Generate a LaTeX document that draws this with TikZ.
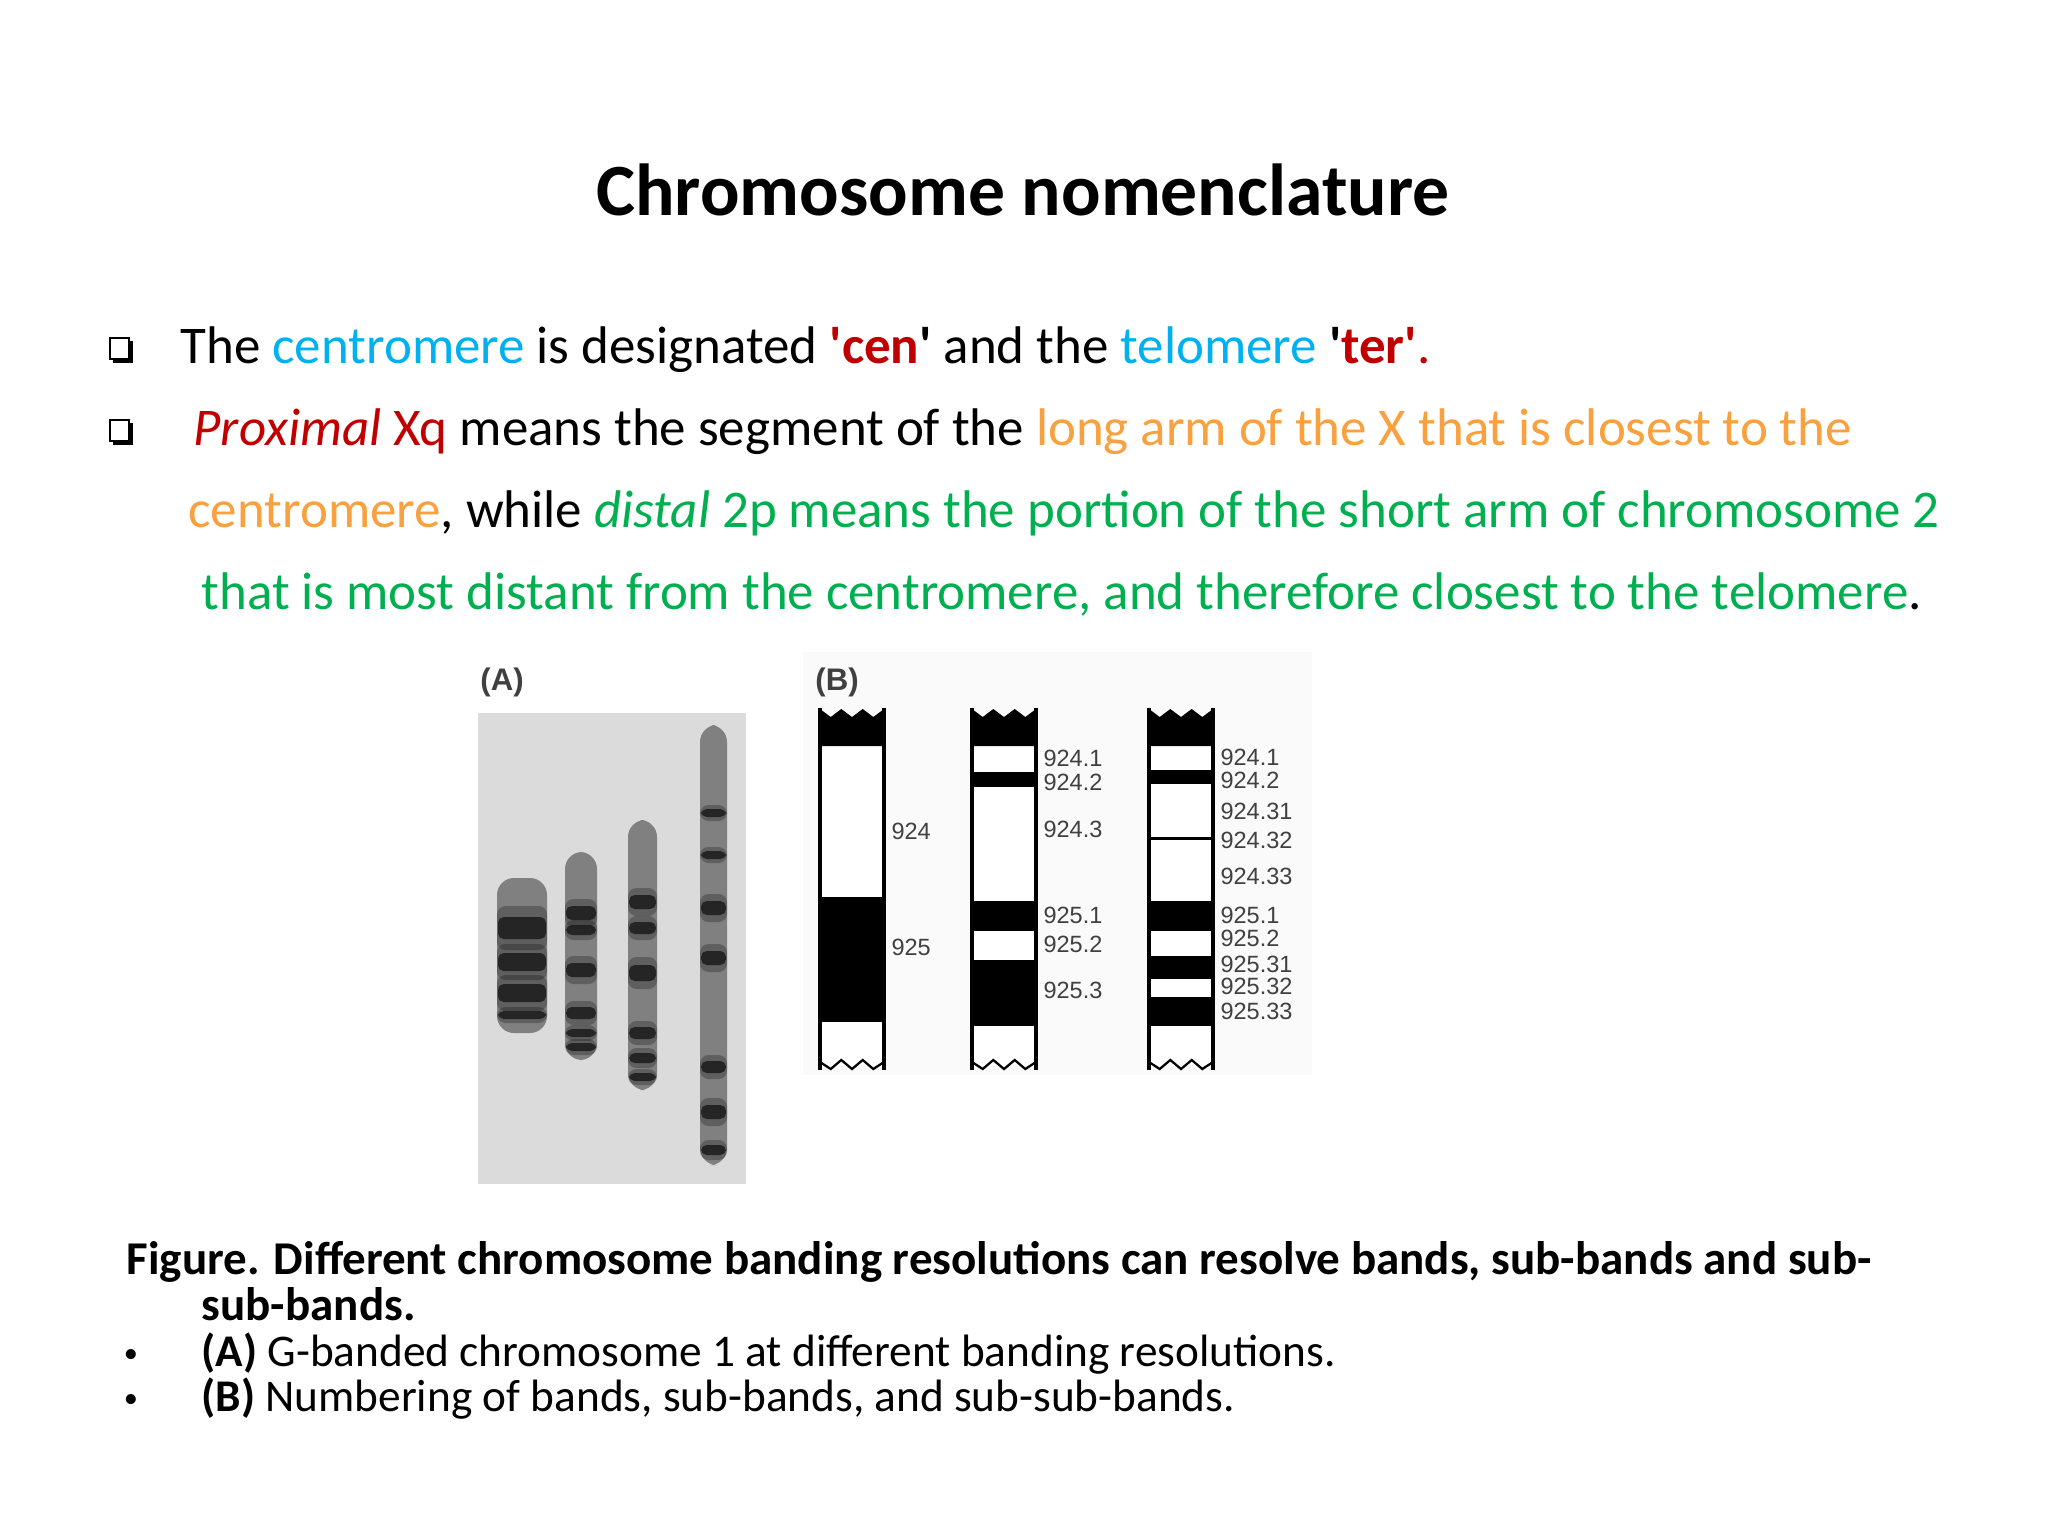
\documentclass[tikz,border=0pt]{standalone}
\usepackage{fontspec}
\setmainfont{Carlito}
\newfontfamily\labfont{Liberation Sans}
\definecolor{cenblue}{HTML}{00B0F0}
\definecolor{cenred}{HTML}{C00000}
\definecolor{armorange}{HTML}{F9A03F}
\definecolor{distgreen}{HTML}{00B050}
\lineskiplimit=-100pt

\begin{document}
\begin{tikzpicture}[x=0.0124cm, y=-0.0124cm,
    title_text/.style={inner sep=0pt, anchor=base, font=\bfseries\fontsize{26}{30}\selectfont},
    body_text/.style={inner sep=0pt, anchor=base west, font=\fontsize{18.7}{22}\selectfont},
    cap_text/.style={inner sep=0pt, anchor=base west, font=\fontsize{16}{19}\selectfont},
    cap_bold/.style={inner sep=0pt, anchor=base west, align=left, font=\bfseries\fontsize{16.6}{15.9}\selectfont},
    panel_label/.style={inner sep=0pt, text=black!75, font=\labfont\bfseries\fontsize{11}{13}\selectfont},
    band_label/.style={inner sep=0pt, anchor=west, text=black!75, font=\labfont\fontsize{8.3}{9}\selectfont},
    chrom_side/.style={line width=1.2pt},
    g_band/.style={fill=black!88, opacity=0.9},
    g_halo/.style={fill=black, opacity=0.25}]
    \fill[white] (0,0) rectangle (2048,1536);
    \useasboundingbox (0,0) rectangle (2048,1536);

    \node[title_text] (title) at (1023,215) {Chromosome nomenclature};

    % square bullets
    \foreach \y in {363,445} {
        \draw[line width=0.7pt] (110,\y-25) rectangle (129,\y-4);
        \fill (113,\y-4) rectangle (133,\y);
        \fill (129,\y-22) rectangle (133,\y);
    }
    \node[body_text] (cenline) at (180,363) {The \textcolor{cenblue}{centromere} is designated
        \textcolor{cenred}{\textbf{\textquotesingle cen}}\textbf{\textquotesingle} and the
        \textcolor{cenblue}{telomere} \textbf{\textquotesingle}\textcolor{cenred}{\textbf{ter\textquotesingle}.}};
    \node[body_text] (proxline) at (193,445) {\textcolor{cenred}{\textit{Proximal} Xq} means the segment of the
        \textcolor{armorange}{long arm of the X that is closest to the}};
    \node[body_text] (distline) at (188,527) {\textcolor{armorange}{centromere}, while
        \textcolor{distgreen}{\textit{distal} 2p means the portion of the short arm of chromosome 2}};
    \node[body_text] (teloline) at (201,609) {\textcolor{distgreen}{that is most distant from the centromere,
        and therefore closest to the telomere}.};

    % (A) banded chromosomes
    \node[panel_label] (labA) at (502,682) {(A)};
    \fill[black!14] (478,713) rectangle (746,1184);
    \foreach \xa/\xb/\ya/\yb/\bands in {
        497/547/878/1033/{928/22,962/18,993/18,1015/8},
        565/597/852/1060/{913/14,930/10,970/14,1013/12,1033/8,1047/8},
        628/657/820/1090/{902/14,928/12,973/16,1033/12,1058/10,1077/8},
        700/727/725/1165/{813/8,855/8,908/14,958/14,1067/12,1112/14,1150/10}} {
        \fill[black!50, rounded corners=6pt] (\xa,\ya) rectangle (\xb,\yb);
        \foreach \yy/\hh in \bands {
            \fill[g_halo, rounded corners=3pt] (\xa,\yy-\hh) rectangle (\xb,\yy+\hh);
            \fill[g_band, rounded corners=2pt] (\xa+1,\yy-\hh/2) rectangle (\xb-1,\yy+\hh/2);
        }
    }

    % (B) band numbering
    \fill[black!2] (803,652) rectangle (1312,1075);
    \node[panel_label] (labB) at (837,682) {(B)};
    \foreach \x/\bands/\labs in {
        820/{897/1022}/{924/831,925/947},
        972/{772/787,901/931,960/1026}/{924.1/758,924.2/782,924.3/829,925.1/915,925.2/944,925.3/990},
        1149/{770/784,837/840,901/931,956/979,997/1026}/{924.1/757,924.2/780,924.31/811,924.32/840,924.33/876,925.1/915,925.2/938,925.31/964,925.32/986,925.33/1011}} {
        \fill[white] (\x,714) rectangle (\x+64,1066);
        \fill (\x,709) -- (\x+10.7,717) -- (\x+21.3,709) -- (\x+32,717) -- (\x+42.7,709)
            -- (\x+53.3,717) -- (\x+64,709) -- (\x+64,746) -- (\x,746) -- cycle;
        \foreach \ya/\yb in \bands
            \fill (\x,\ya) rectangle (\x+64,\yb);
        \draw[line width=0.8pt] (\x,1062) -- (\x+10.7,1069) -- (\x+21.3,1060) -- (\x+32,1069)
            -- (\x+42.7,1060) -- (\x+53.3,1069) -- (\x+64,1062);
        \draw[chrom_side] (\x,708) -- (\x,1070);
        \draw[chrom_side] (\x+64,708) -- (\x+64,1070);
        \foreach \t/\yl [count=\i] in \labs
            \node[band_label] (lab\x-\i) at (\x+71,\yl) {\t};
    }

    % caption
    \node[cap_bold] (figcap) at (126,1320)
        {Figure. Different chromosome banding resolutions can resolve bands, sub-bands and sub-\\
        \hspace*{26.5pt}sub-bands.};
    \node[cap_text, anchor=base, font=\fontsize{10}{12}\selectfont] (dotA) at (131,1362) {•};
    \node[cap_text] (capA) at (201,1366) {\textbf{(A)} G-banded chromosome 1 at different banding resolutions.};
    \node[cap_text, anchor=base, font=\fontsize{10}{12}\selectfont] (dotB) at (131,1407) {•};
    \node[cap_text] (capB) at (201,1411) {\textbf{(B)} Numbering of bands, sub-bands, and sub-sub-bands.};
\end{tikzpicture}
\end{document}
